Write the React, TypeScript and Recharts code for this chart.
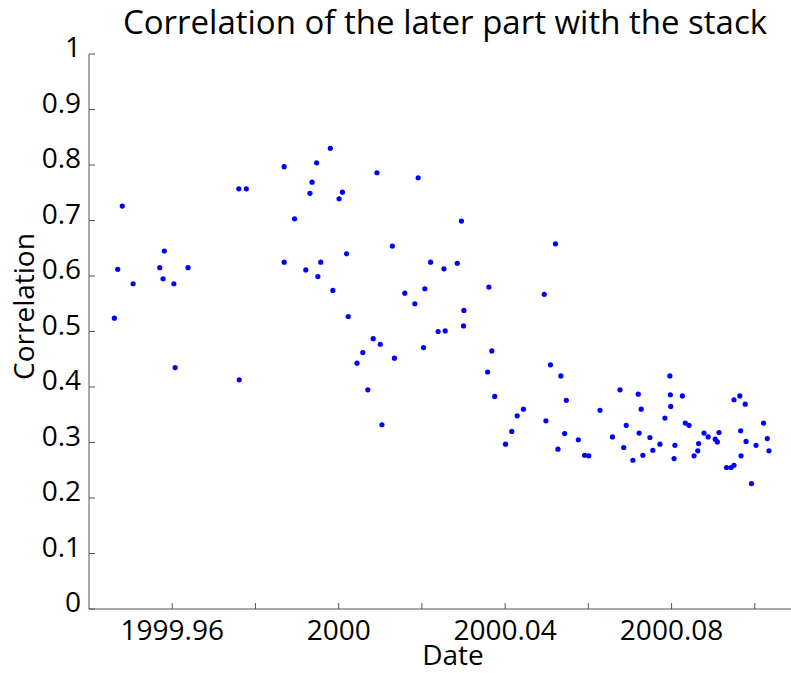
import { ScatterChart, Scatter, XAxis, YAxis, Label } from "recharts";

// sample dates (decimal years) and their correlation values
const DATES = [
  1999.9461, 1999.9469, 1999.948, 1999.9506, 1999.957, 1999.9578, 1999.9581, 1999.9604, 1999.9607, 1999.9638,
  1999.976, 1999.9761, 1999.9778, 1999.9869, 1999.9869, 1999.9894, 1999.9921, 1999.9931, 1999.9936, 1999.9947,
  1999.995, 1999.9957, 1999.998, 1999.9986, 2000.0001, 2000.0009, 2000.0019, 2000.0023, 2000.0044, 2000.0058,
  2000.007, 2000.0083, 2000.0092, 2000.01, 2000.0104, 2000.0129, 2000.0134, 2000.0159, 2000.0183, 2000.0191,
  2000.0204, 2000.0207, 2000.0221, 2000.0239, 2000.0253, 2000.0256, 2000.0285, 2000.0295, 2000.03, 2000.0301,
  2000.0358, 2000.0361, 2000.0368, 2000.0375, 2000.0401, 2000.0416, 2000.0429, 2000.0444, 2000.0494, 2000.0498,
  2000.0509, 2000.0521, 2000.0527, 2000.0534, 2000.0543, 2000.0547, 2000.0576, 2000.0591, 2000.0601, 2000.0628,
  2000.0658, 2000.0676, 2000.0685, 2000.0691, 2000.0707, 2000.072, 2000.0722, 2000.0727, 2000.0731, 2000.0748,
  2000.0755, 2000.0772, 2000.0784, 2000.0796, 2000.0797, 2000.0798, 2000.0806, 2000.0808, 2000.0826, 2000.0833,
  2000.0842, 2000.0854, 2000.0863, 2000.0865, 2000.0878, 2000.0888, 2000.0905, 2000.091, 2000.0914, 2000.0932,
  2000.0943, 2000.095, 2000.095, 2000.0964, 2000.0966, 2000.0967, 2000.0977, 2000.0979, 2000.0992, 2000.1003,
  2000.1021, 2000.103, 2000.1034,
];

const CORRELATION = [
  0.524, 0.612, 0.726, 0.586, 0.615, 0.595, 0.645, 0.586, 0.435, 0.615,
  0.757, 0.413, 0.757, 0.797, 0.625, 0.703, 0.611, 0.749, 0.769, 0.804,
  0.599, 0.625, 0.83, 0.574, 0.739, 0.751, 0.64, 0.527, 0.443, 0.462,
  0.395, 0.487, 0.786, 0.477, 0.332, 0.654, 0.452, 0.569, 0.55, 0.777,
  0.471, 0.577, 0.625, 0.5, 0.613, 0.501, 0.623, 0.699, 0.51, 0.538,
  0.427, 0.58, 0.465, 0.383, 0.297, 0.32, 0.348, 0.36, 0.567, 0.339,
  0.44, 0.658, 0.288, 0.42, 0.316, 0.376, 0.305, 0.277, 0.276, 0.358,
  0.31, 0.395, 0.291, 0.331, 0.268, 0.387, 0.317, 0.36, 0.277, 0.309,
  0.286, 0.297, 0.344, 0.42, 0.386, 0.365, 0.271, 0.295, 0.384, 0.335,
  0.331, 0.276, 0.285, 0.298, 0.317, 0.31, 0.306, 0.301, 0.318, 0.255,
  0.255, 0.259, 0.377, 0.384, 0.321, 0.276, 0.369, 0.302, 0.226, 0.295,
  0.335, 0.307, 0.285,
];

const X_TICKS = [1999.96, 1999.98, 2000, 2000.02, 2000.04, 2000.06, 2000.08, 2000.1];
const X_TICK_LABELS = ["1999.96", "", "2000", "", "2000.04", "", "2000.08", ""];
const Y_TICKS = [0, 0.1, 0.2, 0.3, 0.4, 0.5, 0.6, 0.7, 0.8, 0.9, 1];
const Y_TICK_LABELS = ["0", "0.1", "0.2", "0.3", "0.4", "0.5", "0.6", "0.7", "0.8", "0.9", "1"];

const FONT = "'Open Sans', sans-serif";
const AXIS_COLOR = "#555";

const data = DATES.map((x, i) => ({ x, y: CORRELATION[i] }));

function XTick({ x, y, index }: any) {
  return (
    <g>
      <line x1={x} x2={x} y1={y} y2={y - 6} stroke={AXIS_COLOR} />
      <text x={x} y={y + 31} textAnchor="middle" fontSize={28} fontFamily={FONT} fill="#000">
        {X_TICK_LABELS[index]}
      </text>
    </g>
  );
}

function YTick({ x, y, index }: any) {
  return (
    <g>
      <line x1={x} x2={x + 6} y1={y} y2={y} stroke={AXIS_COLOR} />
      <text x={x - 8} y={y + 3} textAnchor="end" fontSize={28} fontFamily={FONT} fill="#000">
        {Y_TICK_LABELS[index]}
      </text>
    </g>
  );
}

export default function App() {
  return (
    <div style={{ position: "absolute", left: 0, top: 0, width: 791, height: 673, background: "#fff" }}>
      <div
        style={{
          position: "absolute",
          left: 0,
          top: 0,
          width: 890,
          textAlign: "center",
          fontFamily: FONT,
          fontSize: 33,
          lineHeight: "44px",
          color: "#000",
          whiteSpace: "nowrap",
        }}
      >
        Correlation of the later part with the stack
      </div>
      <ScatterChart width={791} height={673} margin={{ top: 54, right: 0, bottom: 0, left: 0 }}>
        <XAxis
          type="number"
          dataKey="x"
          domain={[1999.94, 2000.1087]}
          ticks={X_TICKS}
          allowDataOverflow
          height={64}
          tickSize={0}
          tickMargin={0}
          stroke={AXIS_COLOR}
          tick={<XTick />}
          interval={0}
        >
          <Label
            content={({ viewBox }: any) => (
              <text
                x={viewBox.x + viewBox.width / 2 + 13}
                y={viewBox.y + 56}
                textAnchor="middle"
                fontSize={28}
                fontFamily={FONT}
                fill="#000"
              >
                Date
              </text>
            )}
          />
        </XAxis>
        <YAxis
          type="number"
          dataKey="y"
          domain={[0, 1]}
          ticks={Y_TICKS}
          width={89}
          tickSize={0}
          tickMargin={0}
          stroke={AXIS_COLOR}
          tick={<YTick />}
          interval={0}
        >
          <Label
            content={({ viewBox }: any) => {
              const cx = viewBox.x + 34;
              const cy = viewBox.y + viewBox.height / 2 - 25;
              return (
                <text
                  x={cx}
                  y={cy}
                  transform={`rotate(-90, ${cx}, ${cy})`}
                  textAnchor="middle"
                  fontSize={28}
                  fontFamily={FONT}
                  fill="#000"
                >
                  Correlation
                </text>
              );
            }}
          />
        </YAxis>
        <Scatter
          data={data}
          isAnimationActive={false}
          shape={({ cx, cy }: any) => <circle cx={cx} cy={cy} r={2.6} fill="#0000ff" />}
        />
      </ScatterChart>
    </div>
  );
}
